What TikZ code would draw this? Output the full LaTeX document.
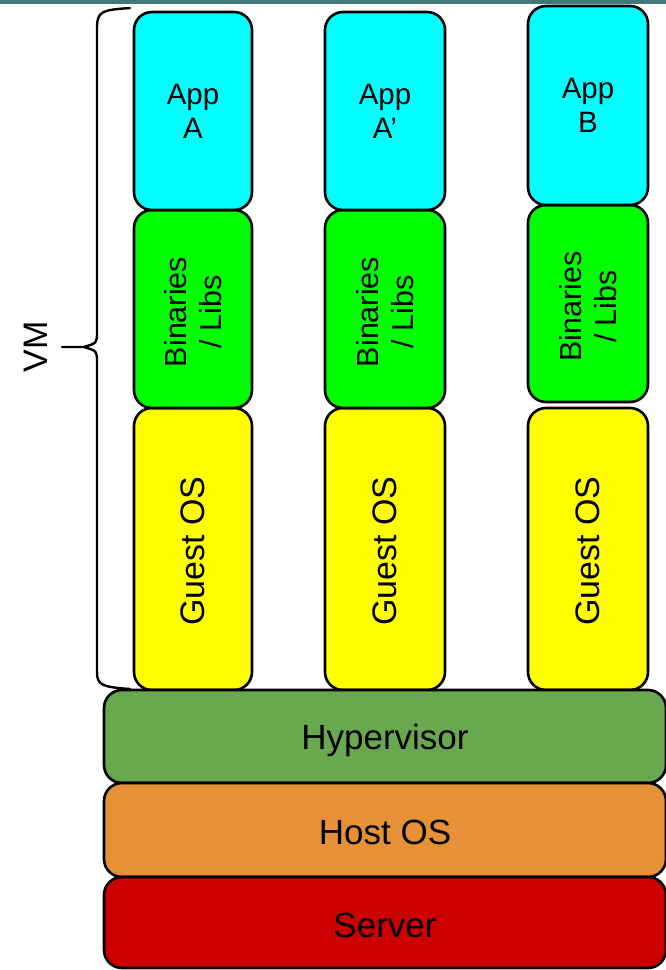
\documentclass[tikz,border=0pt]{standalone}
\usepackage{fontspec}
\setmainfont{Liberation Sans}
\definecolor{topbar}{HTML}{3D7B79}
\definecolor{appcol}{HTML}{00FFFF}
\definecolor{bincol}{HTML}{00FF00}
\definecolor{oscol}{HTML}{FFFF00}
\definecolor{hypcol}{HTML}{6AA84F}
\definecolor{hostcol}{HTML}{E69138}
\definecolor{srvcol}{HTML}{CC0000}
\tikzset{
  layer/.style={draw=black, line width=2.6pt, rounded corners=18pt, inner sep=0pt,
    align=center, font=\fontsize{35}{40}\selectfont},
  apptext/.style={font=\fontsize{29.5}{34}\selectfont},
  bintext/.style={rotate=90, align=center, font=\fontsize{30.5}{35}\selectfont},
  ostext/.style={rotate=90, font=\fontsize{34}{38}\selectfont},
  widetext/.style={font=\fontsize{35}{40}\selectfont},
}
\begin{document}
\begin{tikzpicture}[x=1pt,y=-1pt]
  \useasboundingbox (0,0) rectangle (666,970);
  \fill[topbar] (0,0) rectangle (666,4);

  % guest operating systems
  \node[layer, fill=oscol, minimum width=118pt, minimum height=282pt] (os1) at (193,549) {};
  \node[ostext] at ([yshift=-2pt]os1.center) {Guest OS};
  \node[layer, fill=oscol, minimum width=120pt, minimum height=282pt] (os2) at (385,549) {};
  \node[ostext] at ([yshift=-2pt]os2.center) {Guest OS};
  \node[layer, fill=oscol, minimum width=120pt, minimum height=282pt] (os3) at (588,549) {};
  \node[ostext] at ([yshift=-2pt]os3.center) {Guest OS};

  % binaries and libraries
  \node[layer, fill=bincol, minimum width=118pt, minimum height=198pt] (bin1) at (193,309) {};
  \node[bintext] at ([yshift=-3pt]bin1.center) {Binaries\\/ Libs};
  \node[layer, fill=bincol, minimum width=120pt, minimum height=198pt] (bin2) at (385,309) {};
  \node[bintext] at ([yshift=-3pt]bin2.center) {Binaries\\/ Libs};
  \node[layer, fill=bincol, minimum width=120pt, minimum height=197pt] (bin3) at (588,303.5) {};
  \node[bintext] at ([yshift=-3pt]bin3.center) {Binaries\\/ Libs};

  % applications
  \node[layer, apptext, fill=appcol, minimum width=118pt, minimum height=198pt] (app1) at (193,111) {App\\A};
  \node[layer, apptext, fill=appcol, minimum width=120pt, minimum height=198pt] (app2) at (385,111) {App\\A’};
  \node[layer, apptext, fill=appcol, minimum width=120pt, minimum height=199pt] (app3) at (588,105.5) {App\\B};

  % shared layers
  \node[layer, fill=hypcol, minimum width=562pt, minimum height=93pt] (hyp) at (385,736.5) {};
  \node[widetext] at ([yshift=-4pt]hyp.center) {Hypervisor};
  \node[layer, fill=hostcol, minimum width=562pt, minimum height=94pt] (host) at (385,830) {};
  \node[widetext] at ([yshift=-2pt]host.center) {Host OS};
  \node[layer, fill=srvcol, minimum width=562pt, minimum height=91pt] (srv) at (385,922.5) {};
  \node[widetext] at ([yshift=-3pt]srv.center) {Server};

  % brace marking one virtual machine
  \draw[line width=2.4pt, line cap=round]
    (130,8) .. controls (102,10) and (97,11) .. (97,28) -- (97,332)
    .. controls (97,343) .. (84,347) -- (62,347);
  \draw[line width=2.4pt, line cap=round]
    (84,347) .. controls (97,351) .. (97,362) -- (97,672)
    .. controls (97,685) and (102,687) .. (130,689);
  \node[rotate=90, font=\fontsize{34}{38}\selectfont] (vm) at (36,347) {VM};
\end{tikzpicture}
\end{document}
